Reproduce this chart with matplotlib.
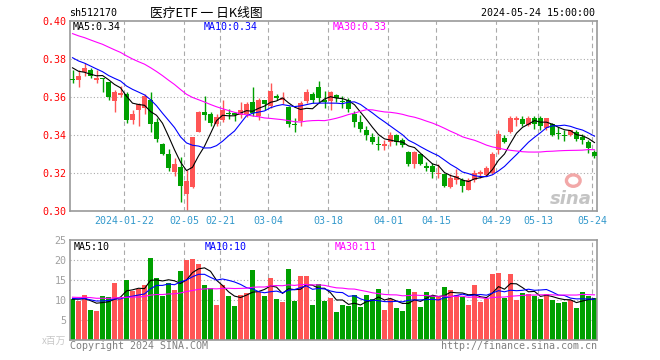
import numpy as np
import pandas as pd
import matplotlib
matplotlib.use("Agg")
import matplotlib.pyplot as plt
from matplotlib.patches import Ellipse

# -----------------------------
# colours / fonts
# -----------------------------
RED = "#FF5555"
GREEN = "#00A000"
GRID = "#AAAAAA"
FRAME = "#999999"
DATE_BLUE = "#3399CC"
MONO = "DejaVu Sans Mono"
CJK = ["Noto Sans CJK SC", "DejaVu Sans"]
plt.rcParams["font.family"] = [MONO]

W, H = 660, 360

# -----------------------------
# data, 2024-01-09 .. 2024-05-24
# -----------------------------
opens = [0.3695, 0.3688, 0.3730, 0.3740, 0.3688, 0.3698, 0.3677, 0.3579, 0.3611, 0.3618,
         0.3477, 0.3533, 0.3544, 0.3586, 0.3467, 0.3354, 0.3302, 0.3204, 0.3232, 0.3091,
         0.3126, 0.3418, 0.3523, 0.3512, 0.3460, 0.3481, 0.3516, 0.3516, 0.3505, 0.3509,
         0.3575, 0.3498, 0.3586, 0.3551, 0.3604, 0.3586, 0.3547, 0.3460, 0.3474, 0.3579,
         0.3618, 0.3653, 0.3582, 0.3579, 0.3611, 0.3579, 0.3586, 0.3512, 0.3467, 0.3425,
         0.3390, 0.3354, 0.3344, 0.3365, 0.3400, 0.3372, 0.3312, 0.3249, 0.3302, 0.3235,
         0.3235, 0.3193, 0.3193, 0.3126, 0.3161, 0.3161, 0.3112, 0.3161, 0.3193, 0.3190,
         0.3200, 0.3323, 0.3383, 0.3414, 0.3477, 0.3484, 0.3453, 0.3488, 0.3488, 0.3435,
         0.3456, 0.3410, 0.3400, 0.3400, 0.3418, 0.3390, 0.3365, 0.3312]
highs = [0.3740, 0.3740, 0.3779, 0.3751, 0.3744, 0.3702, 0.3677, 0.3635, 0.3656, 0.3628,
         0.3533, 0.3568, 0.3618, 0.3628, 0.3488, 0.3358, 0.3326, 0.3281, 0.3284, 0.3218,
         0.3389, 0.3526, 0.3607, 0.3523, 0.3509, 0.3586, 0.3537, 0.3523, 0.3575, 0.3572,
         0.3653, 0.3596, 0.3586, 0.3674, 0.3618, 0.3628, 0.3551, 0.3488, 0.3579, 0.3642,
         0.3628, 0.3684, 0.3632, 0.3632, 0.3618, 0.3604, 0.3593, 0.3526, 0.3505, 0.3449,
         0.3411, 0.3393, 0.3372, 0.3414, 0.3404, 0.3383, 0.3316, 0.3316, 0.3302, 0.3260,
         0.3253, 0.3249, 0.3193, 0.3193, 0.3221, 0.3172, 0.3176, 0.3214, 0.3214, 0.3239,
         0.3312, 0.3425, 0.3400, 0.3498, 0.3498, 0.3498, 0.3498, 0.3498, 0.3498, 0.3491,
         0.3463, 0.3442, 0.3425, 0.3428, 0.3425, 0.3404, 0.3376, 0.3323]
lows = [0.3674, 0.3653, 0.3709, 0.3702, 0.3674, 0.3628, 0.3583, 0.3519, 0.3600, 0.3463,
        0.3460, 0.3449, 0.3509, 0.3418, 0.3361, 0.3295, 0.3211, 0.3183, 0.3049, 0.3000,
        0.3119, 0.3414, 0.3481, 0.3449, 0.3449, 0.3467, 0.3484, 0.3474, 0.3488, 0.3495,
        0.3502, 0.3481, 0.3530, 0.3540, 0.3583, 0.3561, 0.3442, 0.3418, 0.3449, 0.3568,
        0.3568, 0.3572, 0.3540, 0.3530, 0.3572, 0.3540, 0.3519, 0.3442, 0.3418, 0.3372,
        0.3351, 0.3319, 0.3319, 0.3340, 0.3347, 0.3337, 0.3239, 0.3228, 0.3242, 0.3211,
        0.3176, 0.3176, 0.3126, 0.3119, 0.3140, 0.3098, 0.3112, 0.3154, 0.3172, 0.3183,
        0.3197, 0.3298, 0.3358, 0.3411, 0.3446, 0.3449, 0.3446, 0.3432, 0.3428, 0.3428,
        0.3397, 0.3379, 0.3369, 0.3397, 0.3369, 0.3354, 0.3305, 0.3277]
closes = [0.3688, 0.3709, 0.3754, 0.3709, 0.3698, 0.3695, 0.3600, 0.3628, 0.3621, 0.3477,
          0.3512, 0.3565, 0.3607, 0.3456, 0.3379, 0.3302, 0.3225, 0.3249, 0.3130, 0.3158,
          0.3389, 0.3523, 0.3505, 0.3463, 0.3495, 0.3533, 0.3509, 0.3505, 0.3533, 0.3561,
          0.3516, 0.3586, 0.3565, 0.3632, 0.3597, 0.3597, 0.3456, 0.3453, 0.3568, 0.3628,
          0.3586, 0.3593, 0.3572, 0.3628, 0.3593, 0.3572, 0.3537, 0.3467, 0.3432, 0.3400,
          0.3365, 0.3347, 0.3354, 0.3400, 0.3365, 0.3347, 0.3246, 0.3312, 0.3249, 0.3228,
          0.3204, 0.3200, 0.3130, 0.3172, 0.3182, 0.3130, 0.3161, 0.3200, 0.3204, 0.3225,
          0.3302, 0.3404, 0.3365, 0.3488, 0.3488, 0.3456, 0.3488, 0.3460, 0.3446, 0.3488,
          0.3400, 0.3407, 0.3397, 0.3425, 0.3379, 0.3372, 0.3334, 0.3291]
volumes = [10.2, 9.8, 11.2, 7.6, 7.2, 11.0, 10.8, 14.3, 10.3, 15.0,
           12.3, 12.8, 13.8, 20.6, 15.6, 11.0, 14.3, 12.5, 17.3, 19.9,
           20.3, 18.9, 13.8, 13.0, 8.7, 13.8, 11.0, 8.4, 11.2, 11.7,
           17.4, 11.9, 11.0, 15.6, 10.2, 9.5, 17.8, 9.8, 16.1, 16.1,
           8.7, 14.0, 9.8, 10.5, 7.0, 8.75, 8.5, 11.25, 8.25, 11.25,
           10.25, 12.75, 7.5, 10.25, 8.0, 7.25, 12.75, 12.0, 8.25, 12.0,
           11.0, 11.0, 13.25, 12.5, 11.25, 10.75, 8.75, 13.75, 9.5, 10.25,
           16.5, 16.75, 10.5, 16.5, 10.0, 11.75, 11.5, 11.0, 10.25, 11.5,
           10.0, 9.25, 9.5, 10.0, 8.0, 12.0, 11.0, 10.5]

# sessions before the window (only feed the moving averages)
prior_close = [0.406, 0.404, 0.407, 0.405, 0.403, 0.404, 0.406, 0.403, 0.402, 0.401,
               0.399, 0.400, 0.401, 0.398, 0.396, 0.394, 0.393, 0.392, 0.391, 0.389,
               0.388, 0.387, 0.386, 0.385, 0.384, 0.380, 0.378, 0.376, 0.374]
prior_vol = [11.5, 10.2, 9.8, 12.4, 10.6, 11.9, 10.1, 9.5, 11.8, 10.7,
             12.2, 10.4, 9.9, 11.3, 10.8, 10.2, 11.6, 10.5, 9.9, 11.7,
             10.9, 10.3, 11.0, 10.2, 10.6, 9.8, 10.5, 10.1, 10.4]

tick_idx = [9, 19, 25, 33, 43, 53, 61, 71, 78, 87]
tick_labels = ["2024-01-22", "02-05", "02-21", "03-04", "03-18",
               "04-01", "04-15", "04-29", "05-13", "05-24"]


def moving(prior, vals, n):
    s = pd.Series(list(prior) + list(vals)).rolling(n).mean().values
    return s[len(prior):]


def px(x, y):
    return x / W, 1 - y / H


o = np.array(opens)
hi = np.array(highs)
lo = np.array(lows)
c = np.array(closes)
v = np.array(volumes)
x = np.arange(len(c))
cols = np.where(c >= o, RED, GREEN)

ma_p = {n: moving(prior_close, c, n) for n in (5, 10, 30)}
ma_v = {n: moving(prior_vol, v, n) for n in (5, 10, 30)}
MA_COL = {5: "black", 10: "#0000FF", 30: "#FF00FF"}

fig = plt.figure(figsize=(6.6, 3.6), dpi=100)
ax = fig.add_axes([70 / W, 149 / H, 527 / W, 190 / H])
axv = fig.add_axes([70 / W, 20 / H, 527 / W, 100 / H])

vline_pos = [i - 0.4 for i in tick_idx]

for a in (ax, axv):
    a.set_xlim(-0.42, 87.42)
    for s in a.spines.values():
        s.set_color(FRAME)
        s.set_linewidth(1.2)
    for xp in vline_pos:
        a.axvline(xp, color=GRID, lw=0.8, ls=(0, (4, 3)), zorder=0)
    a.tick_params(length=0)

# ---- price panel ----
ax.set_ylim(0.30, 0.40)
for gy in (0.32, 0.34, 0.36, 0.38):
    ax.axhline(gy, color=GRID, lw=0.8, ls=(0, (1, 2)), zorder=0)

ax.vlines(x, lo, hi, colors=cols, lw=1, zorder=2)
body = np.maximum(np.abs(c - o), 0.0005)
ax.bar(x, body, bottom=np.minimum(o, c), width=0.83, color=cols, lw=0, zorder=3)

for n in (5, 10, 30):
    ax.plot(x, ma_p[n], color=MA_COL[n], lw=0.8, zorder=4)

ax.set_yticks([0.30, 0.32, 0.34, 0.36, 0.38, 0.40])
ax.set_yticklabels([f"{t:.2f}" for t in ax.get_yticks()], color="#FF0000", fontsize=7.2)
ax.tick_params(axis="y", pad=2.5)
ax.set_xticks(vline_pos)
ax.set_xticklabels(tick_labels, color=DATE_BLUE, fontsize=7.2)
ax.tick_params(axis="x", pad=3.5)

fig.text(*px(73, 27), f"MA5:{ma_p[5][-1]:.2f}", color="black", fontsize=7.2, va="center")
fig.text(*px(204, 27), f"MA10:{ma_p[10][-1]:.2f}", color="#0000FF", fontsize=7.2, va="center")
fig.text(*px(333, 27), f"MA30:{ma_p[30][-1]:.2f}", color="#FF00FF", fontsize=7.2, va="center")

# sina watermark
ax.add_patch(Ellipse((0.955, 0.16), 0.026, 0.06, transform=ax.transAxes,
                     facecolor="none", edgecolor="#F2A8A8", lw=2.4, zorder=1))
ax.text(0.99, 0.015, "sina", transform=ax.transAxes, ha="right", va="bottom",
        fontsize=13, fontweight="bold", fontstyle="italic", family="DejaVu Sans",
        color="#C4C4C4", zorder=1)

# ---- volume panel ----
axv.set_ylim(0, 25)
for gy in (5, 10, 15, 20):
    axv.axhline(gy, color=GRID, lw=0.8, ls=(0, (1, 2)), zorder=0)
axv.bar(x, v, width=0.83, color=cols, lw=0, zorder=2)
for n in (5, 10, 30):
    axv.plot(x, ma_v[n], color=MA_COL[n], lw=0.8, zorder=4)
axv.set_yticks([5, 10, 15, 20, 25])
axv.set_yticklabels(["5", "10", "15", "20", "25"], color="#A0A0A0", fontsize=7.2)
axv.tick_params(axis="y", pad=2.5)
axv.set_xticks([])

fig.text(*px(74, 247), f"MA5:{ma_v[5][-1]:.0f}", color="black", fontsize=7.2, va="center")
fig.text(*px(205, 247), f"MA10:{ma_v[10][-1]:.0f}", color="#0000FF", fontsize=7.2, va="center")
fig.text(*px(335, 247), f"MA30:{ma_v[30][-1]:.0f}", color="#FF00FF", fontsize=7.2, va="center")

# ---- header / footer ----
fig.text(*px(69, 13), "sh512170", fontsize=7.2, va="center")
fig.text(*px(150, 13), "医疗ETF 一 日K线图", family=CJK, fontsize=9.2, va="center")
fig.text(*px(595, 13), "2024-05-24 15:00:00", fontsize=7.2, va="center", ha="right")
fig.text(*px(66, 341), "x百万", family=CJK, fontsize=7, color="#C8C8C8",
         va="center", ha="right")
fig.text(*px(70, 346), "Copyright 2024 SINA.COM", fontsize=7.2, color="#808080", va="center")
fig.text(*px(597, 346), "http://finance.sina.com.cn", fontsize=7.2, color="#808080",
         va="center", ha="right")

fig.savefig("out.png", dpi=100, facecolor="white")
